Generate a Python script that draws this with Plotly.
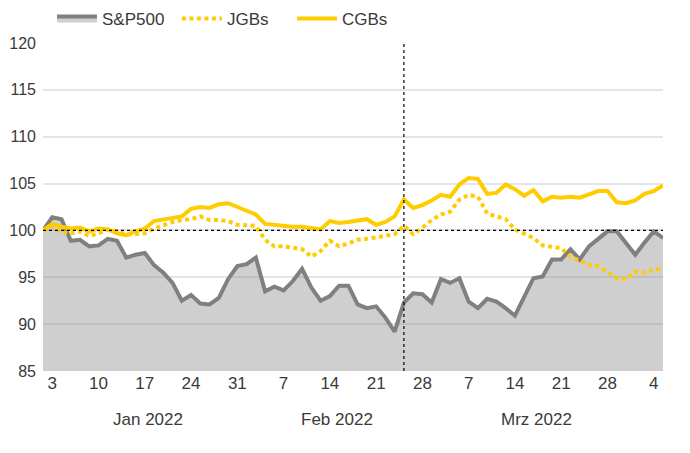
import pandas as pd
import plotly.graph_objects as go

# ---- data -------------------------------------------------------------
dates = pd.bdate_range("2021-12-31", "2022-04-05")
event_date = "2022-02-24"
base_level = 100

sp500 = [100.0, 101.4, 101.2, 98.9, 99.0, 98.3, 98.4, 99.1, 98.9, 97.1,
         97.4, 97.6, 96.3, 95.5, 94.4, 92.5, 93.1, 92.2, 92.1, 92.8,
         94.8, 96.2, 96.4, 97.1, 93.5, 94.0, 93.6, 94.6, 95.9, 93.9,
         92.5, 93.0, 94.1, 94.1, 92.1, 91.7, 91.9, 90.7, 89.2, 92.3,
         93.3, 93.2, 92.3, 94.8, 94.4, 94.9, 92.4, 91.7, 92.7, 92.4,
         91.7, 90.9, 92.9, 94.9, 95.1, 96.9, 96.9, 98.0, 96.9, 98.3,
         99.1, 99.9, 99.9, 98.7, 97.4, 98.7, 99.9, 99.2]

jgbs = [100.0, 100.4, 99.8, 99.7, 99.9, 99.4, 99.7, 100.1, 99.9, 99.6,
        99.6, 99.7, 100.2, 100.6, 100.9, 101.1, 101.2, 101.5, 101.1, 101.1,
        101.0, 100.6, 100.5, 100.5, 99.0, 98.3, 98.3, 98.1, 98.0, 97.2,
        97.8, 98.9, 98.3, 98.6, 99.0, 99.1, 99.3, 99.5, 99.6, 100.5,
        99.6, 100.3, 101.1, 101.7, 102.0, 103.3, 103.8, 103.6, 101.8, 101.5,
        101.2, 100.1, 99.7, 99.2, 98.4, 98.3, 98.1, 97.2, 96.8, 96.3,
        96.2, 95.5, 94.9, 94.8, 95.6, 95.5, 95.8, 96.0]

cgbs = [100.0, 100.7, 100.4, 100.2, 100.3, 99.9, 100.2, 100.1, 99.7, 99.5,
        99.9, 100.2, 101.0, 101.2, 101.4, 101.5, 102.3, 102.5, 102.4, 102.8,
        102.9, 102.5, 102.1, 101.7, 100.7, 100.6, 100.4, 100.4, 100.4, 100.2,
        100.1, 101.0, 100.8, 100.9, 101.1, 101.2, 100.6, 100.9, 101.5, 103.3,
        102.4, 102.7, 103.2, 103.8, 103.6, 104.9, 105.6, 105.5, 103.9, 104.0,
        104.9, 104.4, 103.7, 104.3, 103.1, 103.6, 103.5, 103.6, 103.5, 103.8,
        104.2, 104.2, 103.0, 102.9, 103.2, 103.9, 104.2, 104.8]

month_names = {1: "Jan", 2: "Feb", 3: "Mrz"}
y_ticks = [85, 90, 95, 100, 105, 110, 115, 120]

# ---- derived positions (business-day index axis) -----------------------
idx = list(range(len(dates)))
tick_idx = [i for i, d in enumerate(dates) if d.weekday() == 0]
tick_txt = [str(dates[i].day) for i in tick_idx]
event_idx = list(dates).index(pd.Timestamp(event_date))

FONT = "Liberation Sans, Arial, sans-serif"
FS = 17
TXT = "#3a3a3a"
YEL = "#FFCC00"
GRY = "#808080"

fig = go.Figure()
fig.add_trace(go.Scatter(
    x=idx, y=sp500, name="S&P500", mode="lines", legend="legend",
    line=dict(color=GRY, width=4),
    fill="tozeroy", fillcolor="rgba(128,128,128,0.38)"))
fig.add_trace(go.Scatter(
    x=idx, y=jgbs, name="JGBs", mode="lines", legend="legend2",
    line=dict(color=YEL, width=4, dash="4px,3.5px")))
fig.add_trace(go.Scatter(
    x=idx, y=cgbs, name="CGBs", mode="lines", legend="legend3",
    line=dict(color=YEL, width=4)))

# reference lines
fig.add_shape(type="line", xref="x", yref="y", x0=0, x1=len(dates) - 1,
              y0=base_level, y1=base_level, layer="above",
              line=dict(color="black", width=1.2, dash="dot"))
fig.add_shape(type="line", xref="x", yref="y", x0=event_idx, x1=event_idx,
              y0=y_ticks[0], y1=y_ticks[-1], layer="above",
              line=dict(color="black", width=1.2, dash="dot"))

# month labels
for m, name in month_names.items():
    sel = [i for i, d in enumerate(dates) if d.month == m and d.year == 2022]
    centre = (sel[0] + sel[-1]) / 2 + 0.3
    fig.add_annotation(x=centre, y=0, xref="x", yref="paper", yshift=-48,
                       yanchor="middle", xanchor="center",
                       text=f"{name} 2022", showarrow=False,
                       font=dict(family=FONT, size=FS, color=TXT))

def leg(x):
    return dict(orientation="h", x=x, y=1.0732, xanchor="left",
                yanchor="middle", font=dict(family=FONT, size=FS, color=TXT),
                bgcolor="rgba(0,0,0,0)", itemwidth=40)

fig.update_layout(
    width=674, height=437,
    margin=dict(l=35, r=19, t=35, b=74, autoexpand=False),
    paper_bgcolor="white", plot_bgcolor="white",
    font=dict(family=FONT, size=FS, color=TXT),
    showlegend=True,
    legend=leg(0.0145), legend2=leg(0.216), legend3=leg(0.4016),
)
fig.update_xaxes(range=[0, len(dates) - 1], tickmode="array",
                 tickvals=tick_idx, ticktext=tick_txt, showgrid=False,
                 zeroline=False, showline=False, ticks="",
                 tickfont=dict(family=FONT, size=FS, color=TXT))
fig.update_yaxes(range=[y_ticks[0], y_ticks[-1]], tickmode="array",
                 tickvals=y_ticks, showgrid=True, gridcolor="#e4e4ec",
                 gridwidth=2, zeroline=False, showline=False, ticks="",
                 ticklabelstandoff=6,
                 tickfont=dict(family=FONT, size=16, color=TXT))

fig.write_html("out.html")
